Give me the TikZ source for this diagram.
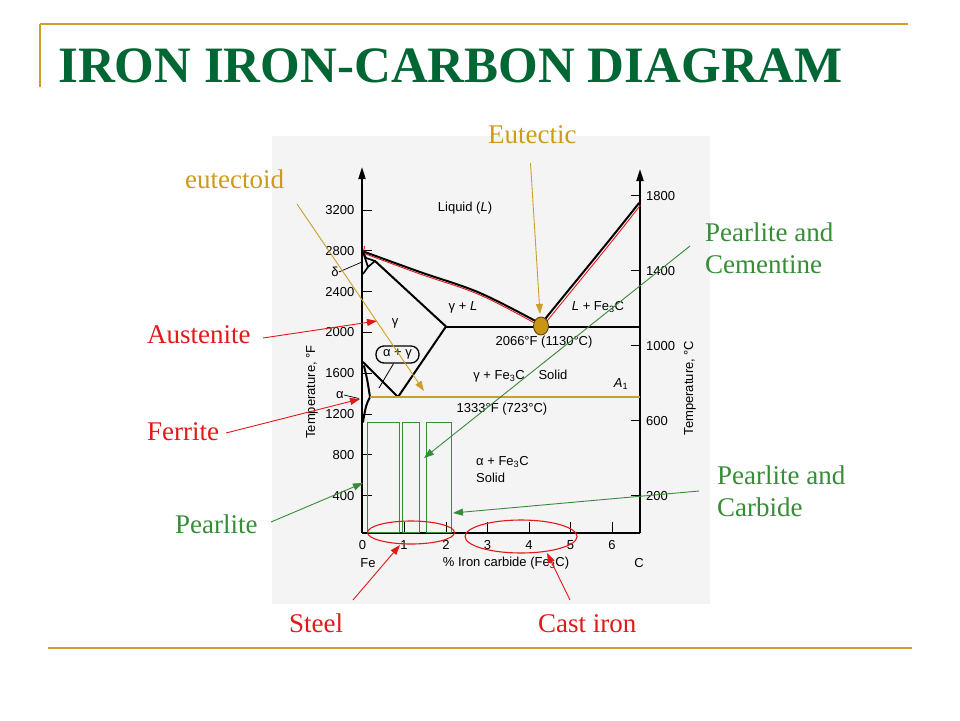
\documentclass[tikz,border=0pt]{standalone}
\usepackage{fontspec}
\setmainfont{Liberation Serif}
\newfontfamily\arialf{Liberation Sans}
\usetikzlibrary{arrows.meta}
\definecolor{titlegreen}{RGB}{0,102,51}
\definecolor{goldline}{RGB}{204,160,40}
\definecolor{goldtext}{RGB}{205,155,25}
\definecolor{annogreen}{RGB}{55,140,55}
\definecolor{annored}{RGB}{225,25,25}
\definecolor{panelgrey}{RGB}{244,244,244}
\definecolor{dotgold}{RGB}{200,150,20}
\begin{document}
\begin{tikzpicture}[x=1pt,y=-1pt,
  lbl/.style={inner sep=0pt, anchor=base west, font=\fontsize{27}{30}\selectfont},
  dtxt/.style={inner sep=0pt, font=\arialf\fontsize{13}{15}\selectfont},
  phase/.style={line width=2pt, line join=round, line cap=round},
  axisline/.style={line width=2pt},
  tickline/.style={line width=1pt},
  annarrow/.style={line width=0.9pt, -{Triangle[length=10pt,width=7pt]}},
  axarrow/.style={-{Triangle[length=12pt,width=7pt]}},
  greenbox/.style={draw=annogreen, line width=0.9pt},
  redell/.style={draw=annored, line width=1.1pt},
]
\useasboundingbox (0,0) rectangle (960,720);
\fill[white] (0,0) rectangle (960,720);
% slide frame
\draw[goldline, line width=2pt] (40,24) -- (908,24);
\draw[goldline, line width=1.5pt] (40,24) -- (40,87);
\draw[goldline, line width=2pt] (48,648) -- (912,648);
\node[anchor=base west, inner sep=0pt, text=titlegreen, font=\bfseries\fontsize{51}{56}\selectfont] (title) at (58,82) {IRON IRON-CARBON DIAGRAM};
% panel
\fill[panelgrey] (272,136) rectangle (710,604);
% axes
\coordinate (O) at (362,532.5);
\coordinate (Ltop) at (362,167);
\coordinate (R0) at (640,532.5);
\coordinate (Rtop) at (640,169);
\draw[axisline, axarrow] (O) -- (Ltop);
\draw[axisline] (O) -- (R0);
\draw[axisline, axarrow] (R0) -- (Rtop);
\foreach \v/\yy in {3200/210,2800/250.8,2400/291.6,2000/332.4,1600/373.2,1200/414,800/454.8,400/495.6} {
  \draw[tickline] (362,\yy) -- (372,\yy);
  \node[dtxt, anchor=east] (f\v) at (354.5,\yy) {\v};
}
\foreach \v/\yy in {1800/195.7,1400/270.7,1000/345.7,600/420.7,200/495.7} {
  \draw[tickline] (631,\yy) -- (640,\yy);
  \node[dtxt, anchor=west] (c\v) at (646,\yy) {\v};
}
\node[dtxt] (x0) at (362.5,545) {0};
\foreach \v/\xx in {1/404,2/446,3/487.5,4/529,5/570.5,6/612} {
  \draw[tickline] (\xx,532.5) -- (\xx,522);
  \node[dtxt] (x\v) at (\xx,545) {\v};
}
\node[dtxt] (fe) at (368,563) {Fe};
\node[dtxt] (xlab) at (506,563) {\% Iron carbide (Fe\textsubscript{3}C)};
\node[dtxt] (cc) at (639,563) {C};
\node[dtxt, rotate=90] (ylabF) at (312,392) {Temperature, °F};
\node[dtxt, rotate=90] (ylabC) at (690,388) {Temperature, °C};
% phase boundaries
\draw[phase] plot[smooth, tension=0.6] coordinates {(362,251) (420,272) (480,293) (541,324)};
\draw[phase] (541,324) .. controls (575,282) and (610,240) .. (639,203);
\draw[annored, line width=0.9pt] (364.5,246) -- (363.5,252.5);
\draw[annored, line width=0.9pt] plot[smooth, tension=0.6] coordinates {(363,253) (420,274) (480,295) (540,326)};
\draw[annored, line width=0.9pt] (543,326) .. controls (577,284) and (612,242) .. (640.5,205);
\draw[phase] (446,326.5) -- (640,326.5);
\draw[phase] (375,261) -- (446,326.5) -- (398,397) -- (363,362);
\draw[line width=1.6pt, line join=round] (363,252) -- (366,258) -- (375,261) -- (368,267) -- cycle;
\draw[line width=1.6pt] (368,267) -- (363,274);
\draw[phase] (364,366) .. controls (367,378) .. (370,397);
\draw[phase] (370,397) .. controls (366,405) .. (363,422);
\draw[line width=2pt] (370,397) -- (640,397);
\draw[goldline, line width=1.4pt] (370,397) -- (640,397);
% region labels
\node[dtxt] (liq) at (465,208) {Liquid (\textit{L})};
\node[dtxt] (gam) at (395,323) {γ};
\node[dtxt] (gL) at (463,307) {γ + \textit{L}};
\node[dtxt] (LFe) at (598,307) {\textit{L} + Fe\textsubscript{3}C};
\node[dtxt] (eutT) at (544,342) {2066°F (1130°C)};
\node[dtxt] (gFe) at (499,376) {γ + Fe\textsubscript{3}C};
\node[dtxt] (sol1) at (553,375) {Solid};
\node[dtxt] (A1) at (621,384) {\textit{A}\textsubscript{1}};
\node[dtxt] (eutdT) at (502,409) {1333°F (723°C)};
\node[dtxt, anchor=west] (aFe) at (476,462) {α + Fe\textsubscript{3}C};
\node[dtxt, anchor=west] (sol2) at (476,478) {Solid};
\node[dtxt, draw, line width=1.3pt, rounded corners=8pt, minimum width=43pt, minimum height=17pt] (ag) at (397.5,354.5) {α + γ};
\coordinate (agl) at (379,388);
\draw[line width=0.8pt] ([xshift=-4pt]ag.south) -- (agl);
\node[dtxt] (delta) at (335,272) {δ};
\coordinate (dpt) at (362,262);
\draw[line width=0.7pt] (delta.east) -- (dpt);
\node[dtxt] (alpha) at (340,395) {α};
\coordinate (apt) at (359,398.5);
\draw[line width=0.7pt] (alpha.east) -- (apt);
% eutectic dot
\draw[fill=dotgold, draw=black!60!dotgold, line width=0.8pt] (541,326) ellipse [x radius=7.5pt, y radius=9pt];
% green boxes
\draw[greenbox] (367,422) rectangle (399,532.5);
\draw[greenbox] (402,422) rectangle (419,532.5);
\draw[greenbox] (426.5,422) rectangle (451,532.5);
% red ellipses
\draw[redell] (411,532.5) ellipse [x radius=43.5pt, y radius=11.5pt];
\draw[redell] (521,536.5) ellipse [x radius=56pt, y radius=16.5pt];
% annotations
\node[lbl, text=goldtext] (Leutectoid) at (185,188) {eutectoid};
\coordinate (eutectoidS) at (297,204);
\coordinate (eutectoidT) at (424,391);
\draw[annarrow, goldline] (eutectoidS) -- (eutectoidT);
\node[lbl, text=goldtext] (Leutectic) at (488,143) {Eutectic};
\coordinate (eutecticS) at (530.5,163);
\coordinate (eutecticT) at (540,314);
\draw[annarrow, goldline] (eutecticS) -- (eutecticT);
\node[lbl, text=annogreen] (Lpc1) at (705,241) {Pearlite and};
\node[lbl, text=annogreen] (Lpc2) at (705,273) {Cementine};
\coordinate (pcS) at (690,246);
\coordinate (pcT) at (424,458);
\draw[annarrow, annogreen] (pcS) -- (pcT);
\node[lbl, text=annogreen] (Lpk1) at (717,484) {Pearlite and};
\node[lbl, text=annogreen] (Lpk2) at (717,516) {Carbide};
\coordinate (pkS) at (699,491);
\coordinate (pkT) at (453,513);
\draw[annarrow, annogreen] (pkS) -- (pkT);
\node[lbl, text=annogreen] (Lpear) at (175,533) {Pearlite};
\coordinate (pearS) at (271,522);
\coordinate (pearT) at (363,483);
\draw[annarrow, annogreen] (pearS) -- (pearT);
\node[lbl, text=annored] (Laus) at (147,343) {Austenite};
\coordinate (ausS) at (263,338);
\coordinate (ausT) at (377,321);
\draw[annarrow, annored] (ausS) -- (ausT);
\node[lbl, text=annored] (Lfer) at (147,440) {Ferrite};
\coordinate (ferS) at (226,433);
\coordinate (ferT) at (360,399);
\draw[annarrow, annored] (ferS) -- (ferT);
\node[lbl, text=annored] (Lsteel) at (289,632) {Steel};
\coordinate (steelS) at (353,600);
\coordinate (steelT) at (400,545);
\draw[annarrow, annored] (steelS) -- (steelT);
\node[lbl, text=annored] (Lcast) at (538,632) {Cast iron};
\coordinate (castS) at (570,600);
\coordinate (castT) at (547,553);
\draw[annarrow, annored] (castS) -- (castT);
\end{tikzpicture}
\end{document}
